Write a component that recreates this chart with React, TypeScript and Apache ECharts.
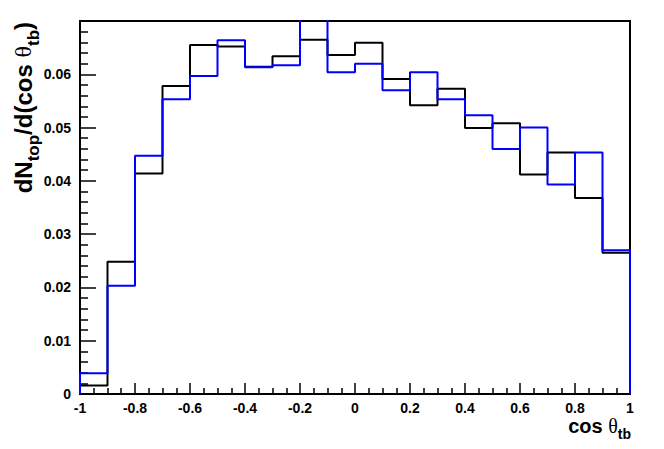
import React, { useEffect, useRef } from "react";
import * as echarts from "echarts";

// bin edges of cos(theta_tb), 20 bins
const binEdges = [-1, -0.9, -0.8, -0.7, -0.6, -0.5, -0.4, -0.3, -0.2, -0.1, 0, 0.1, 0.2, 0.3, 0.4, 0.5, 0.6, 0.7, 0.8, 0.9, 1];
const blackValues = [0.0016, 0.0248, 0.0414, 0.0578, 0.0655, 0.0652, 0.0614, 0.0634, 0.0665, 0.0636, 0.0659, 0.0591, 0.0542, 0.0573, 0.0499, 0.0508, 0.0412, 0.0453, 0.0368, 0.0265];
const blueValues = [0.0039, 0.0203, 0.0447, 0.0553, 0.0597, 0.0664, 0.0613, 0.0617, 0.0712, 0.0604, 0.062, 0.057, 0.0604, 0.0553, 0.0523, 0.046, 0.05, 0.0393, 0.0453, 0.027];
const yMax = 0.07;

const FONT = "'Liberation Sans', Arial, Helvetica, sans-serif";
const GREEK = "'Liberation Serif', 'DejaVu Serif', serif";

function stepPoints(values: number[]): number[][] {
  const pts: number[][] = [[binEdges[0], 0]];
  values.forEach((v, i) => pts.push([binEdges[i], v]));
  pts.push([binEdges[binEdges.length - 1], values[values.length - 1]]);
  pts.push([binEdges[binEdges.length - 1], 0]);
  return pts;
}

export default function App() {
  const ref = useRef<HTMLDivElement>(null);
  useEffect(() => {
    if (!ref.current) return;
    const chart = echarts.init(ref.current, null, { renderer: "svg" });
    const titleRich = (main: number, sub: number, raise: number) => ({
      m: { fontSize: main, lineHeight: main, fontWeight: "bold", fontFamily: FONT, color: "#000", padding: [0, 0, raise, 0], verticalAlign: "bottom" },
      g: { fontSize: main, lineHeight: main, fontFamily: GREEK, color: "#000", padding: [0, 0, raise, 0], verticalAlign: "bottom" },
      s: { fontSize: sub, lineHeight: sub, fontWeight: "bold", fontFamily: FONT, color: "#000", verticalAlign: "bottom" },
    });
    chart.setOption({
      animation: false,
      backgroundColor: "#fff",
      grid: { left: 80, right: 34, top: 21, bottom: 55, show: true, borderColor: "#000", borderWidth: 2, backgroundColor: "transparent" },
      xAxis: {
        type: "value",
        min: -1,
        max: 1,
        interval: 0.2,
        axisLine: { onZero: false, lineStyle: { color: "#000", width: 2 } },
        axisTick: { inside: true, length: 11, lineStyle: { color: "#000", width: 1.5 } },
        minorTick: { show: true, splitNumber: 4, length: 6, lineStyle: { color: "#000", width: 1.5 } },
        splitLine: { show: false },
        axisLabel: {
          margin: 7,
          color: "#000",
          fontSize: 14,
          fontWeight: "bold",
          fontFamily: FONT,
          formatter: (v: number) => String(Math.round(v * 10) / 10),
        },
      },
      yAxis: {
        type: "value",
        min: 0,
        max: yMax,
        interval: 0.01,
        axisLine: { onZero: false, lineStyle: { color: "#000", width: 2 } },
        axisTick: { inside: true, length: 16, lineStyle: { color: "#000", width: 1.5 } },
        minorTick: { show: true, splitNumber: 5, length: 8, lineStyle: { color: "#000", width: 1.5 } },
        splitLine: { show: false },
        axisLabel: {
          margin: 9,
          color: "#000",
          fontSize: 14,
          fontWeight: "bold",
          fontFamily: FONT,
          formatter: (v: number) => (v === 0 ? "0" : v > 0.0695 ? "" : v.toFixed(2)),
        },
      },
      series: [
        {
          type: "line",
          step: "end",
          symbol: "none",
          clip: true,
          data: stepPoints(blackValues),
          lineStyle: { color: "#000", width: 2 },
          itemStyle: { color: "#000" },
          z: 2,
        },
        {
          type: "line",
          step: "end",
          symbol: "none",
          clip: true,
          data: stepPoints(blueValues),
          lineStyle: { color: "#0000ff", width: 2 },
          itemStyle: { color: "#0000ff" },
          z: 3,
        },
      ],
      graphic: [
        {
          type: "text",
          x: 30,
          y: 22,
          rotation: Math.PI / 2,
          style: {
            text: "{m|dN}{s|top}{m|/d(cos }{g|θ}{s|tb}{m|)}",
            rich: titleRich(24, 17, 7),
            align: "right",
            verticalAlign: "middle",
          },
        },
        {
          type: "text",
          x: 631,
          y: 441,
          style: {
            text: "{m|cos }{g|θ}{s|tb}",
            rich: titleRich(20, 14, 5),
            align: "right",
            verticalAlign: "bottom",
          },
        },
      ],
    });
    return () => chart.dispose();
  }, []);
  return <div ref={ref} style={{ position: "fixed", left: 0, top: 0, width: 664, height: 449 }} />;
}
